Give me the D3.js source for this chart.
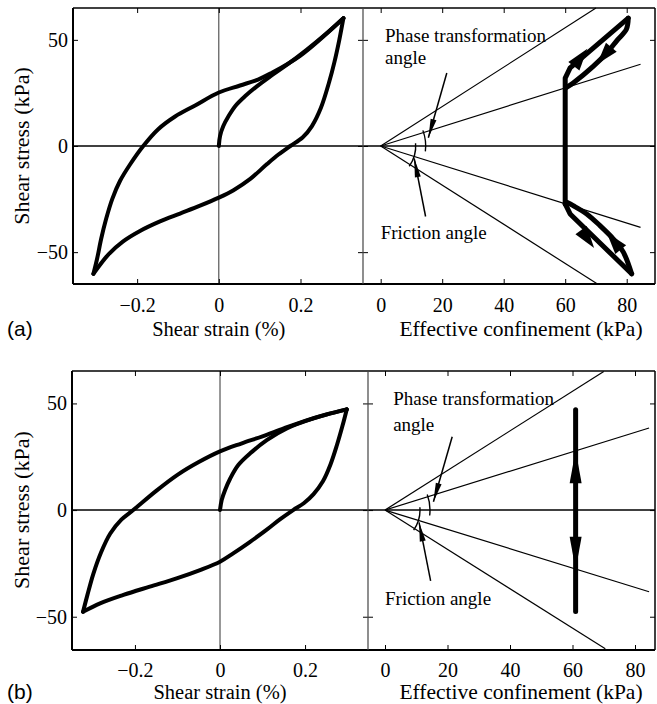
<!DOCTYPE html>
<html>
<head>
<meta charset="utf-8">
<script src="https://cdn.jsdelivr.net/npm/d3@7"></script>
<style>
  body { margin: 0; background: #fff; }
  svg { display: block; }
</style>
</head>
<body>
<div id="chart"></div>
<script>
/*
 * Cyclic shear: stress-strain loops (left) and stress paths (right),
 * two panels (a) and (b).
 */

const strainTicks = [-0.2, 0, 0.2];
const stressTicks = [-50, 0, 50];
const confinementTicks = [0, 20, 40, 60, 80];

// lines through the origin, [confinement, stress]
const frictionUp = [[0, 0], [70, 65]];
const frictionDown = [[0, 0], [70.5, -65]];
const phaseUp = [[0, 0], [84.5, 38.5]];
const phaseDown = [[0, 0], [84.5, -38.3]];

// (a) stress-strain, [strain %, stress kPa]
const loadingA = [[0, 0], [0.003, 4.7], [0.011, 9.4], [0.024, 14.1], [0.04, 18.75], [0.064, 23.4],
  [0.093, 28.1], [0.126, 32.8], [0.167, 38.3], [0.215, 45.3], [0.264, 53.1], [0.305, 60.2]];
const unloadingA = [[0.305, 60.2], [0.295, 50], [0.283, 39.5], [0.27, 30], [0.25, 18], [0.228, 9.4],
  [0.205, 4], [0.175, 0], [0.146, -4], [0.118, -8.5], [0.077, -15.5], [0.036, -20.8], [0, -24.3],
  [-0.046, -28.1], [-0.095, -31.8], [-0.144, -35.5], [-0.193, -40], [-0.235, -45], [-0.27, -51], [-0.307, -60.2]];
const reloadingA = [[-0.307, -60.2], [-0.298, -53.1], [-0.288, -43.7], [-0.276, -34.4], [-0.261, -25],
  [-0.242, -16.5], [-0.217, -8.6], [-0.185, 0], [-0.149, 7.8], [-0.107, 13.9], [-0.058, 19.1], [0, 25.2],
  [0.052, 28.5], [0.096, 31.3], [0.126, 34.1], [0.199, 42.5], [0.305, 60.2]];

// (a) stress path, [confinement, stress]
const pathUpA = [[60, -27.3], [60, 32], [61.6, 36.8], [80.5, 60.2]];
const pathUpBackA = [[80.5, 60.2], [79.9, 55], [77, 50], [73.5, 43.8], [69.1, 37.5], [62.6, 29.7], [60.3, 27.5]];
const pathDownA = [[60, -27.3], [61.6, -32], [81.6, -60.2]];
const pathDownBackA = [[81.6, -60.2], [78.9, -50], [75.6, -43.7], [71.3, -37.5], [67, -32], [62.6, -28.1], [60.5, -26.5]];
// arrowheads, [base, tip]
const arrowsA = [
  [[63.2, 38.3], [67.2, 45.8]],
  [[74.4, 45.5], [70.4, 38.6]],
  [[65.5, -40.3], [69.4, -48]],
  [[77.6, -48], [73.5, -40.8]]
];

// (b) stress-strain
const loadingB = [[0, 0], [0.004, 4.7], [0.012, 9.4], [0.024, 14.8], [0.043, 21.1], [0.071, 26.6],
  [0.11, 32.8], [0.157, 38.3], [0.22, 43], [0.298, 47.2]];
const unloadingB = [[0.298, 47.2], [0.288, 39.5], [0.275, 30.5], [0.26, 21.5], [0.242, 13.5], [0.22, 7.5],
  [0.197, 3.2], [0.172, 0], [0.14, -4.5], [0.11, -9.2], [0.07, -15], [0.031, -20.3], [0, -24.2],
  [-0.047, -28.1], [-0.102, -32], [-0.165, -35.9], [-0.227, -39.8], [-0.282, -43.75], [-0.322, -47.7]];
const reloadingB = [[-0.322, -47.7], [-0.312, -40], [-0.298, -30], [-0.28, -20], [-0.258, -11], [-0.232, -4.5],
  [-0.204, 0], [-0.15, 9], [-0.1, 16.5], [-0.05, 22.5], [0, 27.5], [0.05, 31.2], [0.1, 34.6], [0.15, 38.3],
  [0.2, 41.8], [0.25, 44.8], [0.298, 47.2]];

// (b) stress path
const pathB = [[61, 47], [61, -47.5]];
const arrowsB = [
  [[61, 12.5], [61, 28]],
  [[61, -12.5], [61, -28]]
];

// annotation pointers, [from, to]
const phasePointer = [[21.5, 34.4], [15.5, 3.9]];
const frictionPointer = [[14.6, -33.2], [10.9, -5.8]];

const width = 657;
const height = 704;
const serif = '"Liberation Serif", "Times New Roman", serif';

const panels = [
  {
    letter: '(a)', top: 8, bottom: 284, left: 73, mid: 363, right: 655,
    strain: [-0.357, 0.353], stress: [-65, 65], conf: [-5.75, 89.2], tickPad: 14, labelGap: 52,
    loading: loadingA, unloading: unloadingA, reloading: reloadingA,
    paths: [pathUpA, pathUpBackA, pathDownA, pathDownBackA], arrows: arrowsA, arrowLen: 22, arrowWid: 14,
    phaseText: [1.4, 49], angleText: [1.4, 38.8], frictionText: [0, -43.8]
  },
  {
    letter: '(b)', top: 371, bottom: 650, left: 72, mid: 368, right: 655,
    strain: [-0.348, 0.348], stress: [-65.6, 65.2], conf: [-5.44, 86.4], tickPad: 13, labelGap: 49,
    loading: loadingB, unloading: unloadingB, reloading: reloadingB,
    paths: [pathB], arrows: arrowsB, arrowLen: 33, arrowWid: 12,
    phaseText: [2.6, 49.2], angleText: [2.6, 37], frictionText: [0, -44.5]
  }
];

const svg = d3.select('#chart')
  .append('svg')
    .attr('width', width)
    .attr('height', height);

panels.forEach(drawPanel);

function headPath(x0, y0, x1, y1, len, wid) {
  const a = Math.atan2(y1 - y0, x1 - x0);
  const bx = x1 - len * Math.cos(a);
  const by = y1 - len * Math.sin(a);
  const nx = -Math.sin(a) * wid / 2;
  const ny = Math.cos(a) * wid / 2;
  return `M${x1},${y1}L${bx + nx},${by + ny}L${bx - nx},${by - ny}Z`;
}

function drawPanel(p) {
  const g = svg.append('g');

  const x = d3.scaleLinear().domain(p.strain).range([p.left, p.mid]);
  const y = d3.scaleLinear().domain(p.stress).range([p.bottom, p.top]);
  const xc = d3.scaleLinear().domain(p.conf).range([p.mid, p.right]);

  // zero lines
  g.append('line')
      .attr('x1', p.left).attr('x2', p.right)
      .attr('y1', y(0)).attr('y2', y(0))
      .attr('stroke', '#000')
      .attr('stroke-width', 1.6);
  g.append('line')
      .attr('x1', x(0)).attr('x2', x(0))
      .attr('y1', p.top).attr('y2', p.bottom)
      .attr('stroke', '#333')
      .attr('stroke-width', 1);

  // axes, ticks pointing inwards
  const strainFmt = d => d === 0 ? '0' : d3.format('.1f')(d);
  const addAxis = (gen, tx, ty) => g.append('g')
      .attr('transform', `translate(${tx},${ty})`)
      .call(gen)
      .call(a => a.select('.domain').remove())
      .call(a => a.selectAll('line').attr('stroke', '#000'))
      .call(a => a.selectAll('text')
          .attr('fill', '#000')
          .style('font-family', serif)
          .style('font-size', '20px'));

  addAxis(d3.axisBottom(x).tickValues(strainTicks).tickFormat(strainFmt).tickSize(-5).tickPadding(p.tickPad), 0, p.bottom);
  addAxis(d3.axisTop(x).tickValues(strainTicks).tickFormat('').tickSize(-5), 0, p.top);
  addAxis(d3.axisLeft(y).tickValues(stressTicks).tickSize(-5).tickPadding(5), p.left, 0);
  addAxis(d3.axisRight(y).tickValues(stressTicks).tickFormat('').tickSize(-5), p.mid, 0);
  addAxis(d3.axisBottom(xc).tickValues(confinementTicks).tickSize(-5).tickPadding(p.tickPad), 0, p.bottom);
  addAxis(d3.axisTop(xc).tickValues(confinementTicks).tickFormat('').tickSize(-5), 0, p.top);
  addAxis(d3.axisLeft(y).tickValues(stressTicks).tickFormat('').tickSize(-5), p.mid, 0);
  addAxis(d3.axisRight(y).tickValues(stressTicks).tickFormat('').tickSize(-5), p.right, 0);

  // frame
  const frame = g.append('g').attr('stroke', '#000').attr('fill', 'none');
  frame.append('line').attr('x1', p.left).attr('x2', p.right).attr('y1', p.top).attr('y2', p.top).attr('stroke-width', 1.5);
  frame.append('line').attr('x1', p.left).attr('x2', p.right).attr('y1', p.bottom).attr('y2', p.bottom).attr('stroke-width', 2);
  frame.append('line').attr('x1', p.left).attr('x2', p.left).attr('y1', p.top).attr('y2', p.bottom).attr('stroke-width', 2);
  frame.append('line').attr('x1', p.right).attr('x2', p.right).attr('y1', p.top).attr('y2', p.bottom).attr('stroke-width', 1.5);
  frame.append('line').attr('x1', p.mid).attr('x2', p.mid).attr('y1', p.top).attr('y2', p.bottom)
      .attr('stroke', '#444').attr('stroke-width', 1.2);

  // hysteresis loop
  const curve = d3.line()
      .x(d => x(d[0]))
      .y(d => y(d[1]))
      .curve(d3.curveCatmullRom.alpha(0.5));

  g.append('g')
      .attr('fill', 'none')
      .attr('stroke', '#000')
      .attr('stroke-width', 4)
      .attr('stroke-linejoin', 'round')
      .attr('stroke-linecap', 'round')
    .selectAll('path')
    .data([p.loading, p.unloading, p.reloading])
    .join('path')
      .attr('d', curve);

  // friction and phase transformation lines
  const straight = d3.line().x(d => xc(d[0])).y(d => y(d[1]));
  const smooth = d3.line().x(d => xc(d[0])).y(d => y(d[1])).curve(d3.curveCatmullRom.alpha(0.5));
  g.append('g')
      .attr('fill', 'none')
      .attr('stroke', '#000')
      .attr('stroke-width', 1.2)
    .selectAll('path')
    .data([frictionUp, frictionDown, phaseUp, phaseDown])
    .join('path')
      .attr('d', straight);

  // angle arcs
  const ox = xc(0);
  const oy = y(0);
  const angleOf = line => Math.atan2(y(line[1][1]) - oy, xc(line[1][0]) - ox);
  const arcs = [
    {r: 45, a0: angleOf(phaseUp) - 0.05, a1: 0.12},
    {r: 35, a0: -0.08, a1: angleOf(frictionDown) + 0.05}
  ];
  g.append('g')
      .attr('fill', 'none')
      .attr('stroke', '#000')
      .attr('stroke-width', 1.4)
    .selectAll('path')
    .data(arcs)
    .join('path')
      .attr('d', d => {
        const path = d3.path();
        path.moveTo(ox + d.r * Math.cos(d.a0), oy + d.r * Math.sin(d.a0));
        path.arc(ox, oy, d.r, d.a0, d.a1);
        return path.toString();
      });

  // pointers to the arcs
  const pointers = g.append('g');
  [phasePointer, frictionPointer].forEach(pt => {
    const [x0, y0] = [xc(pt[0][0]), y(pt[0][1])];
    const [x1, y1] = [xc(pt[1][0]), y(pt[1][1])];
    pointers.append('line')
        .attr('x1', x0).attr('y1', y0)
        .attr('x2', x1).attr('y2', y1)
        .attr('stroke', '#000')
        .attr('stroke-width', 1.5);
    pointers.append('path')
        .attr('d', headPath(x0, y0, x1, y1, 19, 6))
        .attr('fill', '#000');
  });

  // stress path
  g.append('g')
      .attr('fill', 'none')
      .attr('stroke', '#000')
      .attr('stroke-width', 5)
      .attr('stroke-linejoin', 'round')
      .attr('stroke-linecap', 'round')
    .selectAll('path')
    .data(p.paths)
    .join('path')
      .attr('d', (d, i) => i % 2 ? smooth(d) : straight(d));

  g.append('g')
    .selectAll('path')
    .data(p.arrows)
    .join('path')
      .attr('fill', '#000')
      .attr('d', d => headPath(xc(d[0][0]), y(d[0][1]), xc(d[1][0]), y(d[1][1]), p.arrowLen, p.arrowWid));

  // texts
  const text = (tx, ty, str, size) => g.append('text')
      .attr('x', tx)
      .attr('y', ty)
      .style('font-family', serif)
      .style('font-size', size + 'px')
      .attr('fill', '#000')
      .text(str);

  text(xc(p.phaseText[0]), y(p.phaseText[1]), 'Phase transformation', 19);
  text(xc(p.angleText[0]), y(p.angleText[1]), 'angle', 19);
  text(xc(p.frictionText[0]), y(p.frictionText[1]), 'Friction angle', 19);

  text(x(0), p.bottom + p.labelGap, 'Shear strain (%)', 20.5).attr('text-anchor', 'middle');
  text(521, p.bottom + p.labelGap, 'Effective confinement (kPa)', 21.5).attr('text-anchor', 'middle');

  g.append('text')
      .attr('transform', `translate(29,${y(0)}) rotate(-90)`)
      .attr('text-anchor', 'middle')
      .style('font-family', serif)
      .style('font-size', '22px')
      .text('Shear stress (kPa)');

  g.append('text')
      .attr('x', 7)
      .attr('y', p.bottom + p.labelGap)
      .style('font-family', '"Liberation Sans", Arial, sans-serif')
      .style('font-size', '21px')
      .text(p.letter);
}
</script>
</body>
</html>
